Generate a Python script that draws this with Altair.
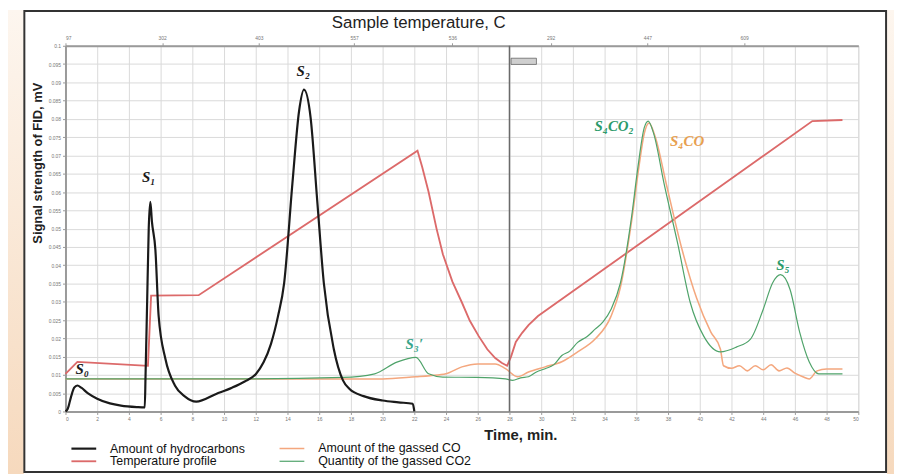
import altair as alt
import pandas as pd

# ---------------- data ----------------
hc_t = [0.0, 0.15, 0.35, 0.55, 0.75, 1.0, 1.4, 2.0, 2.8, 3.5, 4.5, 5.0, 5.05, 5.15, 5.25, 5.35,
        5.45, 5.67, 5.875, 6.3, 6.9, 7.5, 8.25, 9.5, 10.5, 11.3, 12.0, 12.5, 12.96, 13.4, 13.79,
        14.31, 14.73, 15.04, 15.46, 15.875, 16.29, 16.92, 17.5, 17.9, 18.8, 20.0, 21.0, 21.9, 22.0]
hc_v = [0.0, 0.0008, 0.004, 0.0065, 0.0071, 0.0065, 0.005, 0.0035, 0.0022, 0.0016, 0.0012, 0.0011,
        0.01, 0.03, 0.05, 0.0573, 0.052, 0.0442, 0.0261, 0.0144, 0.0071, 0.0042, 0.0027, 0.0048,
        0.0065, 0.0082, 0.0102, 0.0135, 0.0185, 0.026, 0.0351, 0.0623, 0.0821, 0.088, 0.0803,
        0.0577, 0.0352, 0.0171, 0.0085, 0.0062, 0.0042, 0.003, 0.0025, 0.0021, 0.0]

temp_t = [0.0, 0.75, 4.94, 5.2, 5.4, 8.4, 22.2, 22.5, 22.9, 23.4, 23.8, 24.4, 25.0, 25.5, 26.06,
          26.6, 27.1, 27.5, 27.85, 28.1, 28.4, 28.8, 29.2, 29.8, 47.1, 49.0]
temp_v = [0.0103, 0.01355, 0.01255, 0.0125, 0.0317, 0.0318, 0.0713, 0.0668, 0.0600, 0.0500,
          0.0430, 0.0355, 0.0298, 0.0248, 0.0206, 0.0170, 0.0146, 0.0133, 0.0125, 0.0150, 0.0190,
          0.0215, 0.0236, 0.0261, 0.0794, 0.0797]

co_t = [0.0, 10.0, 20.0, 22.1, 23.0, 24.0, 25.0, 26.0, 27.1, 27.75, 28.5, 29.2, 30.25, 31.3,
        32.3, 33.4, 34.4, 35.0, 35.7, 36.2, 36.5, 36.8, 37.2, 37.9, 38.9, 39.8, 40.7, 41.3,
        41.5, 42.0, 42.5, 43.0, 43.5, 44.0, 44.5, 45.0, 45.5, 46.0, 46.5, 46.9, 47.4, 48.0, 49.0]
co_v = [0.0089, 0.0089, 0.0089, 0.0095, 0.0098, 0.0103, 0.0122, 0.013, 0.013, 0.0117, 0.0095,
        0.0108, 0.0122, 0.0136, 0.0163, 0.0198, 0.026, 0.034, 0.052, 0.068, 0.076, 0.0789, 0.075,
        0.062, 0.044, 0.031, 0.0217, 0.0171, 0.0125, 0.0118, 0.0125, 0.0111, 0.0125, 0.0114,
        0.0128, 0.0111, 0.0119, 0.0105, 0.0095, 0.0089, 0.0111, 0.0116, 0.0116]

co2_t = [0.0, 10.0, 17.5, 19.5, 20.9, 22.1, 22.9, 23.8, 25.9, 27.75, 28.2, 28.7, 29.2, 29.7,
         30.25, 30.8, 31.3, 31.8, 32.3, 32.9, 33.4, 33.9, 34.4, 35.0, 35.7, 36.1, 36.5, 36.75,
         37.1, 37.75, 38.6, 39.4, 40.25, 41.3, 42.3, 43.2, 44.0, 44.6, 45.1, 45.7, 46.3, 46.9,
         47.5, 49.0]
co2_v = [0.0089, 0.0089, 0.0093, 0.0103, 0.0135, 0.0148, 0.0103, 0.0094, 0.0093, 0.0089, 0.0085,
         0.0092, 0.0095, 0.0108, 0.0117, 0.0128, 0.0153, 0.0165, 0.0189, 0.0205, 0.0225, 0.0245,
         0.0279, 0.0352, 0.0532, 0.0668, 0.0776, 0.0794, 0.0759, 0.0623, 0.0461, 0.0298, 0.0206,
         0.0163, 0.0176, 0.0198, 0.0279, 0.0352, 0.0374, 0.0333, 0.0217, 0.0136, 0.0103, 0.0103]

series_names = ["Amount of hydrocarbons", "Temperature profile",
                "Amount of the gassed CO", "Quantity of the gassed CO2"]
series_colors = ["#1a1a1a", "#dc6a6a", "#f4a77e", "#4fa36a"]
series_widths = [2.2, 1.2, 1.2, 1.2]

x_ticks = list(range(0, 51, 2))
y_ticks = [round(i * 0.005, 3) for i in range(21)]
top_tick_pos = [0, 6.1, 12.2, 18.2, 24.4, 30.6, 36.7, 42.8]
top_tick_labels = ["97", "302", "403", "557", "536", "292", "447", "609"]

divider_t = [28]
box_t = [28.1, 29.7]
box_v = [0.0949, 0.0966]

ann_text = ["S₀", "S₁", "S₂", "S₃′", "S₄CO₂", "S₄CO", "S₅"]
ann_t = [1.06, 5.25, 15.0, 22.0, 34.6, 39.2, 45.25]
ann_v = [0.0117, 0.064, 0.093, 0.0184, 0.078, 0.074, 0.040]
ann_color = ["#1a1a1a", "#1a1a1a", "#1a1a1a", "#3aa58a", "#2b9a6a", "#e8a050", "#2b9a6a"]

# ---------------- tables ----------------
def long(name, ts, vs):
    return pd.DataFrame({"series": name, "t": ts, "v": vs})

df_mono = pd.concat([long(series_names[2], co_t, co_v),
                     long(series_names[3], co2_t, co2_v),
                     long(series_names[0], hc_t, hc_v)], ignore_index=True)
df_lin = long(series_names[1], temp_t, temp_v)
ann_df = pd.DataFrame({"text": ann_text, "t": ann_t, "v": ann_v, "c": ann_color})
div_df = pd.DataFrame({"t": divider_t})
box_df = pd.DataFrame({"t": [box_t[0]], "t2": [box_t[1]], "v": [box_v[0]], "v2": [box_v[1]]})
one = pd.DataFrame({"a": [0]})

W, H = 800, 369
xscale = alt.Scale(domain=[0, 50], nice=False, zero=False)
yscale = alt.Scale(domain=[0, 0.1], nice=False)

grad = alt.LinearGradient(gradient="linear", x1=0, x2=0, y1=0, y2=1,
                          stops=[alt.GradientStop(color="#fdf6ef", offset=0),
                                 alt.GradientStop(color="#f6d9bd", offset=1)])

left_strip = alt.Chart(one).mark_rect(color=grad).encode(
    x=alt.value(-58), x2=alt.value(-42), y=alt.value(-36), y2=alt.value(432))
right_strip = alt.Chart(one).mark_rect(color=grad).encode(
    x=alt.value(829), x2=alt.value(836), y=alt.value(-36), y2=alt.value(432))
border = alt.Chart(one).mark_rect(fillOpacity=0, stroke="#333333", strokeWidth=2).encode(
    x=alt.value(-41.5), x2=alt.value(828), y=alt.value(-35), y2=alt.value(430))

color_enc = alt.Color("series:N", scale=alt.Scale(domain=series_names, range=series_colors),
                      legend=alt.Legend(title=None, orient="none", legendX=12, legendY=400,
                                        columns=2, columnPadding=30, rowPadding=0,
                                        symbolType="M-2.5,0L2.5,0", symbolSize=100,
                                        symbolStrokeWidth=2.5, labelFontSize=12.5,
                                        labelFont="Liberation Sans", labelColor="#111111",
                                        labelOffset=20, labelLimit=300))
width_enc = alt.StrokeWidth("series:N", scale=alt.Scale(domain=series_names, range=series_widths),
                            legend=None)

y_axis = alt.Axis(values=y_ticks, format=".3~f", labelFontSize=5, labelColor="#777777",
                  tickColor="#999999", tickSize=3, domainColor="#9a9a9a", domainWidth=2,
                  grid=True, gridColor="#dadada", title="Signal strength of FID, mV",
                  titleFontSize=13, titleFontWeight="bold", titleColor="#222222",
                  titleX=-28, titleY=118, titleAlign="center", titleBaseline="middle",
                  labelPadding=2)
x_axis = alt.Axis(orient="bottom", values=x_ticks, labelFontSize=5, labelColor="#777777",
                  tickColor="#999999", tickSize=3, domainColor="#9a9a9a", domainWidth=2,
                  grid=True, gridColor="#dadada", title="Time, min.", titleFontSize=15,
                  titleFontWeight="bold", titleColor="#222222", titleX=459, titleY=23,
                  titleAlign="center", titleBaseline="middle", labelPadding=2)
top_axis = alt.Axis(orient="top", values=top_tick_pos,
                    labelExpr="%s[indexof(%s, datum.value)]" % (str(top_tick_labels),
                                                                 str(top_tick_pos)),
                    labelFontSize=5, labelColor="#777777", tickColor="#999999", tickSize=3,
                    domainColor="#9a9a9a", domainWidth=2, grid=False,
                    title="Sample temperature, C", titleFontSize=17, titleFontWeight="normal",
                    titleColor="#222222", titleX=356, titleY=-23, titleAlign="center",
                    titleBaseline="middle", labelPadding=2)

temp_line = alt.Chart(df_lin).mark_line(interpolate="linear").encode(
    x=alt.X("t:Q", scale=xscale, axis=None),
    y=alt.Y("v:Q", scale=yscale, axis=None),
    color=color_enc, strokeWidth=width_enc)

lines = alt.Chart(df_mono).mark_line(interpolate="monotone").encode(
    x=alt.X("t:Q", scale=xscale, axis=x_axis),
    y=alt.Y("v:Q", scale=yscale, axis=y_axis),
    color=color_enc, strokeWidth=width_enc)

divider = alt.Chart(div_df).mark_rule(color="#6a6a6a", strokeWidth=1.5).encode(
    x=alt.X("t:Q", scale=xscale, axis=top_axis))

box = alt.Chart(box_df).mark_rect(fill="#cfcfcf", stroke="#555555", strokeWidth=0.7).encode(
    x=alt.X("t:Q", scale=xscale, axis=None), x2="t2:Q",
    y=alt.Y("v:Q", scale=yscale, axis=None), y2="v2:Q")

ann_layers = []
for col in dict.fromkeys(ann_color):
    sub = ann_df[ann_df["c"] == col]
    ann_layers.append(
        alt.Chart(sub).mark_text(font="Liberation Serif", fontStyle="italic", fontWeight="bold",
                                 fontSize=15, baseline="middle", align="center", color=col).encode(
            x=alt.X("t:Q", scale=xscale, axis=None),
            y=alt.Y("v:Q", scale=yscale, axis=None),
            text="text:N"))

chart = alt.layer(left_strip, right_strip, border, temp_line, lines, divider, box,
                  *ann_layers).resolve_axis(x="independent", y="independent").properties(
    width=W, height=H,
    padding={"left": 58, "top": 36, "right": 36, "bottom": 63},
    autosize=alt.AutoSizeParams(type="none"),
    background="white",
).configure_view(stroke="#b5b5b5", strokeWidth=1).configure(font="Liberation Sans")

chart.save("out.html", embed_options={"renderer": "svg", "actions": False})
